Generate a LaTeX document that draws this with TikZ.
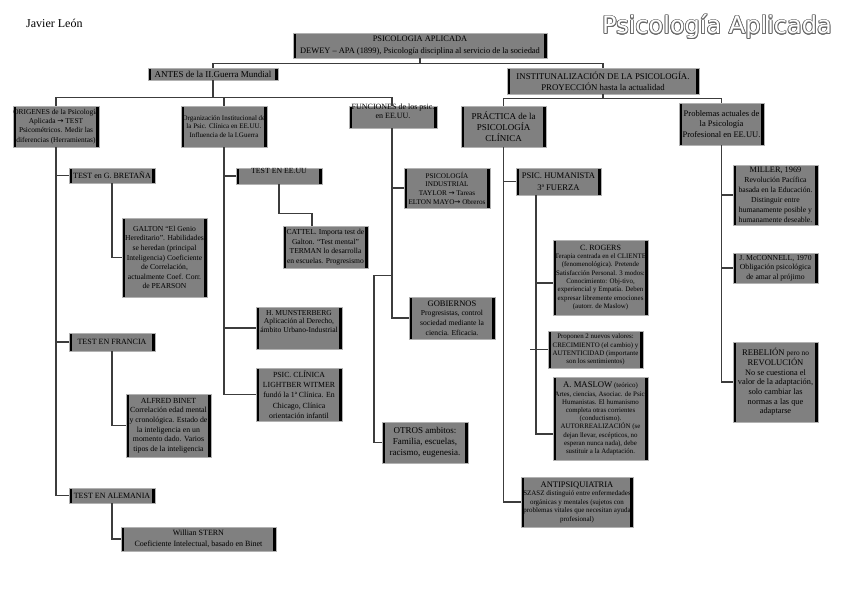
\documentclass[tikz,border=0pt]{standalone}
\usepackage{fontspec}
\setmainfont{Liberation Serif}
\newfontfamily\djv{DejaVu Sans}
\definecolor{boxfill}{RGB}{128,128,128}
\definecolor{boxedge}{RGB}{178,178,178}
\definecolor{conncol}{RGB}{60,60,60}
\definecolor{ttlgray}{RGB}{105,105,105}
\newcommand{\fz}[2]{\fontsize{#1}{#2}\selectfont}
\newcommand{\upshift}[2]{\raisebox{#1}[0pt][0pt]{\begin{tabular}{@{}c@{}}#2\end{tabular}}}
\begin{document}
\begin{tikzpicture}[x=1pt,y=-1pt,
 bx/.style={rectangle, fill=boxfill, draw=boxedge, line width=0.6pt, inner xsep=0pt, inner ysep=1pt, align=center, text=black,
   path picture={\draw[line width=5.6pt,black] (path picture bounding box.north west) -- (path picture bounding box.south west) (path picture bounding box.north east) -- (path picture bounding box.south east);}},
 sz/.style 2 args={minimum width=#1pt, minimum height=#2pt},
 conn/.style={draw=conncol, line width=1.1pt},
 ttl/.style={font=\djv\fz{24}{28}, inner sep=0pt, anchor=base west},
]
\fill[white] (0,0) rectangle (848,599);
\useasboundingbox (0,0) rectangle (848,599);

% header texts
\node[anchor=base west, inner sep=0pt, font=\fz{12}{14}] (autor) at (26,28) {Javier León};
\foreach \ang [count=\i] in {0,22.5,...,337.5}
  \node[ttl, text=ttlgray, xshift={0.75pt*cos(\ang)}, yshift={0.75pt*sin(\ang)}] (tto\i) at (602,34) {Psicología Aplicada};
\node[ttl, text=white] (ttl) at (602,34) {Psicología Aplicada};

% level 0-1
\node[bx, sz={254}{25}, font=\fz{8.4}{11.7}] (top) at (420,45.5) {PSICOLOGIA APLICADA\\DEWEY – APA (1899), Psicología disciplina al servicio de la sociedad};
\node[bx, sz={130}{12}, font=\fz{9}{10}] (antes) at (213,74) {ANTES de la II.Guerra Mundial};
\node[bx, sz={192}{26}, font=\fz{8.8}{11}] (inst) at (603,81) {INSTITUNALIZACIÓN DE LA PSICOLOGÍA.\\PROYECCIÓN hasta la actualidad};

% level 2
\node[bx, sz={86}{41}, font=\fz{7.4}{9.2}] (orig) at (56,126.5) {ORIGENES de la Psicología\\Aplicada {\djv →} TEST\\Psicométricos. Medir las\\diferencias (Herramientas)};
\node[bx, sz={86}{41}, font=\fz{7}{8.4}] (org) at (224,126.5) {Organización Institucional de\\la Psic. Clínica en EE.UU.\\Influencia de la I.Guerra};
\node[bx, sz={88}{22}, font=\fz{8}{9.8}] (func) at (393,117) {\upshift{3pt}{FUNCIONES de los psic.\\en EE.UU.}};
\node[bx, sz={85}{41}, font=\fz{9}{11}] (prac) at (503.5,126.5) {PRÁCTICA de la\\PSICOLOGÍA\\CLÍNICA};
\node[bx, sz={85}{42}, font=\fz{8.5}{10.3}] (prob) at (721.5,124) {Problemas actuales de\\la Psicología\\Profesional en EE.UU.};

% origenes branch
\node[bx, sz={86}{15}, font=\fz{8}{9.5}] (gb) at (112,175.5) {TEST en G. BRETAÑA};
\node[bx, sz={85}{79}, font=\fz{7.6}{9.6}] (galton) at (164.5,257.5) {GALTON “El Genio\\Hereditario”. Habilidades\\se heredan (principal\\Inteligencia) Coeficiente\\de Correlación,\\actualmente Coef. Corr.\\de PEARSON};
\node[bx, sz={86}{18}, font=\fz{8}{9.5}] (fr) at (112,342) {TEST EN FRANCIA};
\node[bx, sz={85}{63}, font=\fz{7.8}{9.6}] (binet) at (168.5,425.5) {ALFRED BINET\\Correlación edad mental\\y cronológica. Estado de\\la inteligencia en un\\momento dado. Varios\\tipos de la inteligencia};
\node[bx, sz={86}{15}, font=\fz{8}{9.5}] (al) at (112,495.5) {TEST EN ALEMANIA};
\node[bx, sz={155}{24}, font=\fz{8}{10.7}] (stern) at (198.5,539) {Willian STERN\\Coeficiente Intelectual, basado en Binet};

% organizacion branch
\node[bx, sz={86}{16}, font=\fz{7.8}{9.5}] (eeuu) at (279,176) {\raisebox{3pt}[0pt][0pt]{TEST EN EE.UU}};
\node[bx, sz={85}{42}, font=\fz{7.6}{9.5}] (cattel) at (325.5,247) {CATTEL. Importa test de\\Galton. “Test mental”\\TERMAN lo desarrolla\\en escuelas. Progresismo};
\node[bx, sz={86}{42}, font=\fz{7.6}{8.6}] (munst) at (299,328) {\upshift{4pt}{H. MUNSTERBERG\\Aplicación al Derecho,\\ámbito Urbano-Industrial}};
\node[bx, sz={86}{53}, font=\fz{7.8}{10.2}] (witmer) at (299,394.5) {PSIC. CLÍNICA\\LIGHTBER WITMER\\fundó la 1ª Clínica. En\\Chicago, Clínica\\orientación infantil};

% funciones branch
\node[bx, sz={86}{40}, font=\fz{7.2}{8.7}] (ind) at (447,188) {PSICOLOGÍA\\INDUSTRIAL\\TAYLOR {\djv →} Tareas\\ELTON MAYO{\djv →} Obreros};
\node[bx, sz={86}{42}, font=\fz{7.6}{9.6}] (gob) at (452,318) {{\fz{8.5}{9.6}GOBIERNOS}\\Progresistas, control\\sociedad mediante la\\ciencia. Eficacia.};
\node[bx, sz={86}{41}, font=\fz{9}{11.2}] (otros) at (425,442.5) {OTROS ambitos:\\Familia, escuelas,\\racismo, eugenesia.};

% practica branch
\node[bx, sz={85}{27}, font=\fz{8.6}{11.5}] (hum) at (558.5,181.5) {PSIC. HUMANISTA\\3ª FUERZA};
\node[bx, sz={95}{75}, font=\fz{6.9}{8.3}] (rogers) at (600.5,277.5) {{\fz{8}{8.3}C. ROGERS}\\Terapia centrada en el CLIENTE\\(fenomenológica). Pretende\\Satisfacción Personal. 3 modos:\\Conocimiento: Obj-tivo,\\experiencial y Empatía. Deben\\expresar libremente emociones\\(autorr. de Maslow)};
\node[bx, sz={95}{37}, font=\fz{6.9}{8.2}] (prop) at (595.5,349.5) {Proponen 2 nuevos valores:\\CRECIMIENTO (el cambio) y\\AUTENTICIDAD (importante\\son los sentimientos)};
\node[bx, sz={95}{83}, font=\fz{6.9}{8.2}] (maslow) at (600.5,418.5) {{\fz{8.7}{8.2}A. MASLOW} (teórico)\\Artes, ciencias, Asociac. de Psic.\\Humanistas. El humanismo\\completa otras corrientes\\(conductismo).\\AUTORREALIZACIÓN (se\\dejan llevar, escépticos, no\\esperan nunca nada), debe\\sustituir a la Adaptación.};
\node[bx, sz={112}{50}, font=\fz{7}{8.5}] (anti) at (577,502) {{\fz{8.5}{8.5}ANTIPSIQUIATRIA}\\SZASZ distinguió entre enfermedades\\orgánicas y mentales (sujetos con\\problemas vitales que necesitan ayuda\\profesional)};

% problemas branch
\node[bx, sz={85}{60}, font=\fz{7.7}{10}] (miller) at (775.5,195) {{\fz{8.3}{10}MILLER, 1969}\\Revolución Pacífica\\basada en la Educación.\\Distinguir entre\\humanamente posible y\\humanamente deseable.};
\node[bx, sz={85}{30}, font=\fz{7.7}{9.7}] (mcc) at (775.5,268) {J. McCONNELL, 1970\\Obligación psicológica\\de amar al prójimo};
\node[bx, sz={85}{80}, font=\fz{8.3}{9.7}] (reb) at (775.5,382) {{\fz{8.6}{9.7}REBELIÓN} {\fz{7.4}{9.7}pero no}\\{\fz{8.6}{9.7}REVOLUCIÓN}\\No se cuestiona el\\valor de la adaptación,\\solo cambiar las\\normas a las que\\adaptarse};

% connectors
\draw[conn] (top.south) -- ++(0,5) -| (antes.north);
\draw[conn] (top.south) -- ++(0,5) -| (inst.north);
\draw[conn] (antes.south) -- ++(0,17) -| (orig.north);
\draw[conn] (antes.south) -- ++(0,17) -| (org.north);
\draw[conn] (antes.south) -- ++(0,17) -| ([xshift=-1pt]func.north);
\draw[conn] (inst.south) -- ++(0,4) -| (prac.north);
\draw[conn] (inst.south) -- ++(0,4) -| (prob.north);
\draw[conn] (orig.south) |- (gb.west);
\draw[conn] (orig.south) |- (fr.west);
\draw[conn] (orig.south) |- (al.west);
\draw[conn] (gb.south) |- (galton.west);
\draw[conn] (fr.south) |- (binet.west);
\draw[conn] (al.south) |- (stern.west);
\draw[conn] (org.south) |- (eeuu.west);
\draw[conn] (org.south) |- (munst.west);
\draw[conn] (org.south) |- (witmer.west);
\draw[conn] (eeuu.south) -- ++(0,29) -| ([xshift=-13.5pt]cattel.north);
\draw[conn] ([xshift=-1pt]func.south) |- (ind.west);
\draw[conn] ([xshift=-1pt]func.south) |- (gob.west);
\draw[conn] ([xshift=-1pt]func.south) -- ++(0,147) -- ++(-18,0) |- (otros.west);
\draw[conn] (prac.south) |- (hum.west);
\draw[conn] (prac.south) |- (anti.west);
\draw[conn] ([xshift=-22.5pt]hum.south) |- ([yshift=-5.5pt]rogers.west);
\draw[conn] ([xshift=-22.5pt]hum.south) |- ([yshift=-15.5pt]maslow.west);
\draw[conn] (prop.west) -- ++(-18,0);
\draw[conn] (prob.south) |- (miller.west);
\draw[conn] (prob.south) |- (mcc.west);
\draw[conn] (prob.south) |- (reb.west);
\end{tikzpicture}
\end{document}
